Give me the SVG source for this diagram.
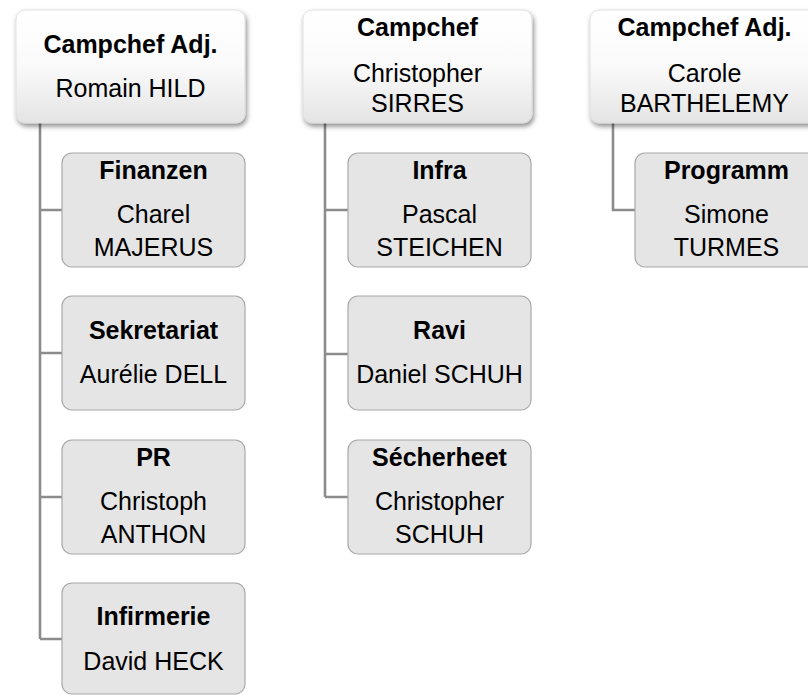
<svg xmlns="http://www.w3.org/2000/svg" width="808" height="695" viewBox="0 0 808 695">
<defs>
<linearGradient id="topg" x1="0" y1="0" x2="0" y2="1">
<stop offset="0" stop-color="#ffffff"/>
<stop offset="0.5" stop-color="#fafafa"/>
<stop offset="1" stop-color="#e4e4e4"/>
</linearGradient>
<filter id="sh" x="-10%" y="-10%" width="125%" height="130%">
<feDropShadow dx="1.5" dy="3" stdDeviation="2.5" flood-color="#000" flood-opacity="0.45"/>
</filter>
<style>
.top{fill:url(#topg);stroke:#d9d9d9;stroke-width:0.8;filter:url(#sh)}
.ch{fill:#e5e5e5;stroke:#a8a8a8;stroke-width:1.2}
.c{fill:none;stroke:#8c8c8c;stroke-width:2.6}
text{font-family:"Liberation Sans",Arial,sans-serif;fill:#000;text-anchor:middle}
.b{font-weight:bold;font-size:25px}
.r{font-size:25px}
</style>
</defs>
<g id="connectors">
<path class="c" d="M40 123 V639 M40 210 H62 M40 353 H62 M40 497 H62 M40 639 H62"/>
<path class="c" d="M325 123 V497 M325 210 H348 M325 354 H348 M325 497 H348"/>
<path class="c" d="M613 123 V210 H635"/>
</g>
<g id="n1">
<rect class="top" x="16" y="10" width="229" height="113" rx="9"/>
<text class="b" x="130.5" y="53">Campchef Adj.</text>
<text class="r" x="130.5" y="97">Romain HILD</text>
</g>
<g id="n2">
<rect class="top" x="303" y="10" width="229" height="113" rx="9"/>
<text class="b" x="417.5" y="36">Campchef</text>
<text class="r" x="417.5" y="82">Christopher</text>
<text class="r" x="417.5" y="112">SIRRES</text>
</g>
<g id="n3">
<rect class="top" x="590" y="10" width="229" height="113" rx="9"/>
<text class="b" x="704.5" y="36">Campchef Adj.</text>
<text class="r" x="704.5" y="82">Carole</text>
<text class="r" x="704.5" y="112">BARTHELEMY</text>
</g>
<g id="finanzen">
<rect class="ch" x="62" y="153" width="183" height="114" rx="10"/>
<text class="b" x="153.5" y="179">Finanzen</text>
<text class="r" x="153.5" y="223">Charel</text>
<text class="r" x="153.5" y="256">MAJERUS</text>
</g>
<g id="sekretariat">
<rect class="ch" x="62" y="296" width="183" height="114" rx="10"/>
<text class="b" x="153.5" y="339">Sekretariat</text>
<text class="r" x="153.5" y="383">Aurélie DELL</text>
</g>
<g id="pr">
<rect class="ch" x="62" y="440" width="183" height="114" rx="10"/>
<text class="b" x="153.5" y="466">PR</text>
<text class="r" x="153.5" y="510">Christoph</text>
<text class="r" x="153.5" y="543">ANTHON</text>
</g>
<g id="infirmerie">
<rect class="ch" x="62" y="583" width="183" height="111" rx="10"/>
<text class="b" x="153.5" y="625">Infirmerie</text>
<text class="r" x="153.5" y="670">David HECK</text>
</g>
<g id="infra">
<rect class="ch" x="348" y="153" width="183" height="114" rx="10"/>
<text class="b" x="439.5" y="179">Infra</text>
<text class="r" x="439.5" y="223">Pascal</text>
<text class="r" x="439.5" y="256">STEICHEN</text>
</g>
<g id="ravi">
<rect class="ch" x="348" y="296" width="183" height="114" rx="10"/>
<text class="b" x="439.5" y="339">Ravi</text>
<text class="r" x="439.5" y="383">Daniel SCHUH</text>
</g>
<g id="secherheet">
<rect class="ch" x="348" y="440" width="183" height="114" rx="10"/>
<text class="b" x="439.5" y="466">Sécherheet</text>
<text class="r" x="439.5" y="510">Christopher</text>
<text class="r" x="439.5" y="543">SCHUH</text>
</g>
<g id="programm">
<rect class="ch" x="635" y="153" width="183" height="114" rx="10"/>
<text class="b" x="726.5" y="179">Programm</text>
<text class="r" x="726.5" y="223">Simone</text>
<text class="r" x="726.5" y="256">TURMES</text>
</g>
</svg>
